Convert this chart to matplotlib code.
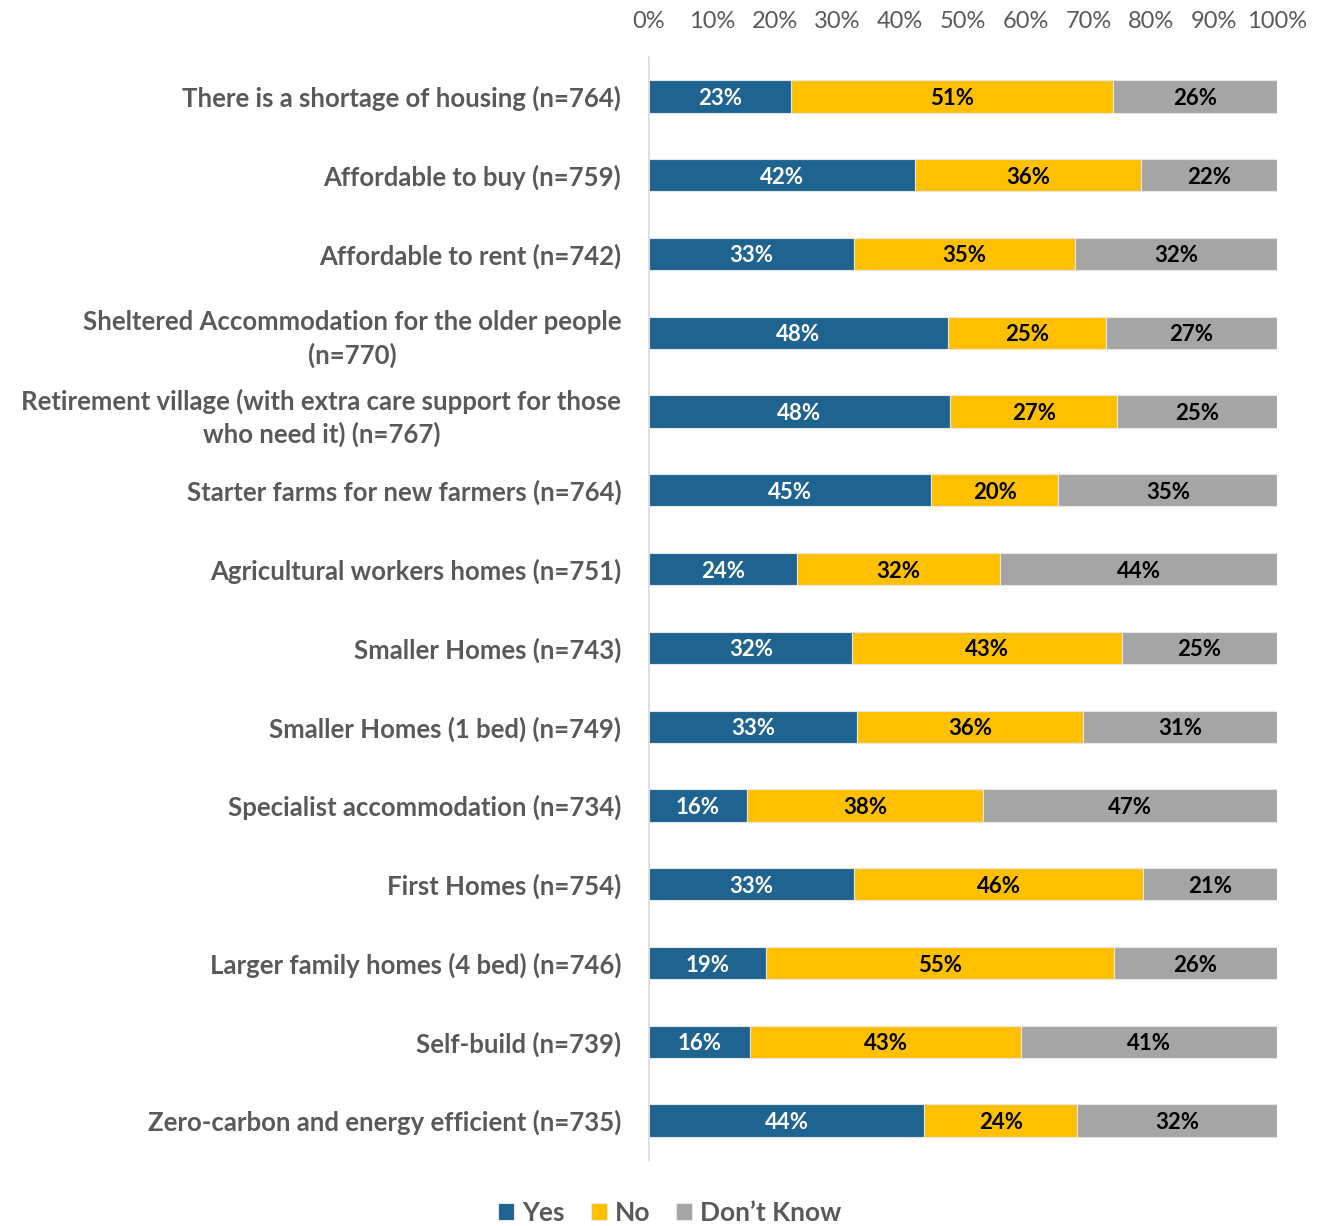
import numpy as np
import matplotlib
matplotlib.use("Agg")
import matplotlib.pyplot as plt

plt.rcParams["font.family"] = ["Lato", "DejaVu Sans"]

categories = [
    "There is a shortage of housing (n=764)",
    "Affordable to buy (n=759)",
    "Affordable to rent (n=742)",
    "Sheltered Accommodation for the older people\n(n=770)",
    "Retirement village (with extra care support for those\nwho need it) (n=767)",
    "Starter farms for new farmers (n=764)",
    "Agricultural workers homes (n=751)",
    "Smaller Homes (n=743)",
    "Smaller Homes (1 bed) (n=749)",
    "Specialist accommodation (n=734)",
    "First Homes (n=754)",
    "Larger family homes (4 bed) (n=746)",
    "Self-build (n=739)",
    "Zero-carbon and energy efficient (n=735)",
]
yes = [22.6, 42.4, 32.6, 47.6, 47.9, 44.9, 23.6, 32.4, 33.1, 15.6, 32.6, 18.6, 16.1, 43.8]
no = [51.3, 36.0, 35.2, 25.1, 26.7, 20.3, 32.3, 42.9, 36.0, 37.6, 46.1, 55.4, 43.2, 24.4]
dont_know = [26.1, 21.6, 32.2, 27.3, 25.4, 34.8, 44.1, 24.7, 30.9, 46.8, 21.3, 26.0, 40.7, 31.8]

series = [("Yes", yes, "#1F6391", "white"),
          ("No", no, "#FFC000", "black"),
          ("Don\u2019t Know", dont_know, "#A5A5A5", "black")]

grey = "#595959"

fig = plt.figure(figsize=(13.21, 12.26), dpi=100)
ax = fig.add_axes([0.4913, 0.0538, 0.4754, 0.8997])

y = np.arange(len(categories))
left = np.zeros(len(categories))
for name, vals, color, txt_color in series:
    vals = np.array(vals)
    bars = ax.barh(y, vals, left=left, height=0.41, color=color,
                   edgecolor="#E6E6E6", linewidth=0.8, label=name)
    for b, v in zip(bars, vals):
        ax.text(b.get_x() + b.get_width() / 2, b.get_y() + b.get_height() / 2,
                f"{v:.0f}%", ha="center", va="center_baseline", color=txt_color,
                fontsize=16, fontweight="bold")
    left += vals

ax.set_xlim(0, 100)
ax.set_ylim(len(categories) - 0.5, -0.5)
ax.set_yticks(y)
ax.set_yticklabels(categories, fontsize=18.5, fontweight="bold", color=grey,
                   multialignment="center", linespacing=1.4)
ax.set_xticks(np.arange(0, 101, 10))
ax.set_xticklabels([f"{t}%" for t in range(0, 101, 10)], fontsize=17, color=grey)
ax.xaxis.tick_top()
ax.tick_params(axis="x", length=0, pad=18)
ax.tick_params(axis="y", length=0, pad=20)

for s in ["top", "right", "bottom"]:
    ax.spines[s].set_visible(False)
ax.spines["left"].set_color("#D9D9D9")
ax.spines["left"].set_linewidth(1.2)

leg = fig.legend(loc="center", bbox_to_anchor=(0.507, 0.011), ncol=3, frameon=False,
                 handlelength=0.6, handleheight=0.6, handletextpad=0.3,
                 columnspacing=1.0, prop={"size": 19, "weight": "bold"})
for t in leg.get_texts():
    t.set_color(grey)

fig.savefig("out.png", dpi=100)
